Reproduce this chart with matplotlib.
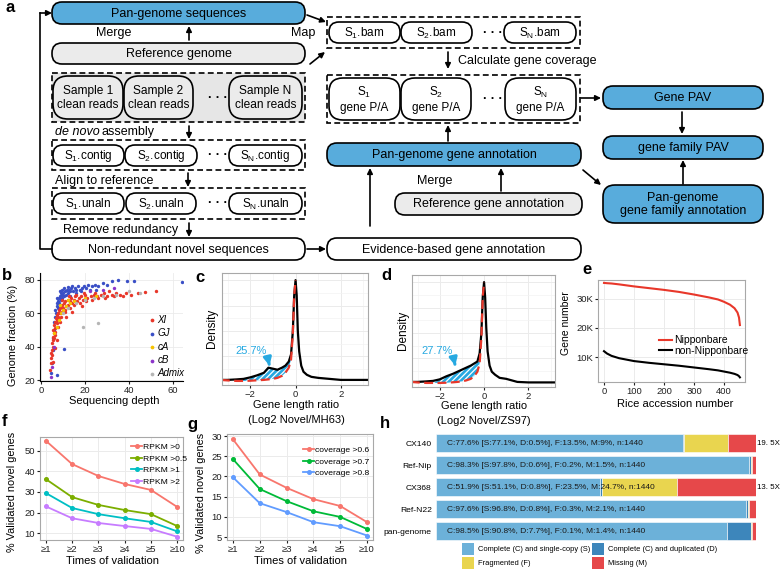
import numpy as np
import matplotlib
matplotlib.use('Agg')
import matplotlib.pyplot as plt
from matplotlib.patches import FancyBboxPatch, Rectangle

plt.rcParams['font.family'] = ['Liberation Sans', 'DejaVu Sans']
plt.rcParams['hatch.linewidth'] = 0.9
plt.rcParams['hatch.color'] = 'white'

W, H = 781, 575
BLUE = '#58acdc'
LGRAY = '#ebebeb'
CYAN = '#27a9e1'
RED = '#e8372a'
FRAME = '#a8a8a8'
GRID = '#ebebeb'

# ---- b: genome fraction vs sequencing depth (depth, fraction) ----
xi_pts = [(4.0, 26), (4.3, 30), (4.5, 33), (4.6, 36), (4.8, 38), (5.0, 35), (5.0, 42), (5.2, 40),
          (5.3, 46), (5.5, 44), (5.6, 50), (5.8, 48), (6.0, 45), (6.0, 53), (6.2, 51), (6.4, 55),
          (6.5, 49), (6.8, 57), (7.0, 54), (7.0, 59), (7.3, 56), (7.5, 60), (7.8, 58), (8.0, 62),
          (8.2, 57), (8.5, 63), (8.8, 60), (9.0, 64), (9.3, 61), (9.6, 65), (10.0, 63), (10.3, 66),
          (10.7, 62), (11.0, 67), (11.5, 64), (12.0, 68), (12.4, 65), (13.0, 67), (13.5, 69),
          (14.0, 66), (14.8, 68), (15.5, 70), (16.2, 67), (17.0, 69), (18.0, 70), (19.0, 68),
          (20.0, 71), (21.0, 69), (22.5, 70), (24.0, 71), (25.5, 70), (27.0, 71), (28.5, 72),
          (30.0, 70), (32.0, 71), (34.0, 72), (36.0, 71), (38.5, 72), (41.0, 71), (44.0, 72),
          (47.0, 72.5), (52.0, 73), (9.0, 58), (11.0, 61), (13.0, 63), (15.0, 65), (17.5, 66),
          (20.5, 67), (23.0, 68), (26.0, 69), (29.0, 69), (33.0, 70), (6.5, 47), (7.5, 52),
          (8.5, 55), (5.4, 31), (6.3, 39), (7.2, 44), (9.5, 68), (12.5, 70), (16.0, 71),
          (19.5, 72), (24.5, 72), (31.0, 73), (37.0, 70), (11.5, 58), (14.0, 61), (18.5, 64)]
gj_pts = [(4.5, 24), (5.0, 30), (5.2, 38), (5.5, 45), (5.8, 50), (6.0, 55), (6.3, 58), (6.5, 62),
          (6.8, 60), (7.0, 64), (7.3, 66), (7.5, 63), (7.8, 67), (8.0, 69), (8.3, 66), (8.6, 70),
          (9.0, 68), (9.3, 71), (9.7, 69), (10.0, 72), (10.4, 70), (10.8, 73), (11.2, 71),
          (11.7, 74), (12.2, 72), (12.7, 74), (13.2, 73), (13.8, 75), (14.5, 73), (15.2, 75),
          (16.0, 74), (16.8, 76), (17.5, 74), (18.5, 75), (19.5, 76), (20.5, 75), (21.5, 77),
          (23.0, 76), (24.5, 77), (26.0, 76), (28.0, 78), (30.0, 77), (32.0, 79), (35.0, 80),
          (39.0, 79.5), (42.0, 79.5), (64.0, 78.5), (7.0, 23), (10.5, 38.5), (9.0, 72),
          (12.0, 75.5), (14.0, 76), (16.0, 72), (18.0, 73), (22.0, 74), (8.5, 73), (10.5, 75),
          (7.2, 69), (9.5, 74), (13.0, 70), (25.0, 74)]
ca_pts = [(6.0, 48), (7.0, 52), (8.0, 56), (9.0, 60), (10.0, 62), (11.5, 64), (13.0, 66),
          (15.0, 67), (8.5, 65), (12.0, 68), (20.0, 69), (25.0, 70)]
cb_pts = [(4.5, 22), (5.0, 28), (6.0, 40), (28.0, 74), (33.0, 75), (22.0, 73)]
admix_pts = [(10.0, 60), (12.0, 63), (19.0, 52), (26.0, 54), (16.0, 66), (20.0, 68), (24.0, 69),
             (28.0, 70), (34.0, 71), (40.0, 73), (45.0, 72)]
b_groups = ['XI', 'GJ', 'cA', 'cB', 'Admix']

# ---- c / d: gene length ratio densities ----
dens_x = [-3.3, -3.0, -2.6, -2.3, -2.0, -1.7, -1.4, -1.2, -1.0, -0.8, -0.6, -0.45, -0.3,
          -0.2, -0.12, -0.06, 0.0, 0.05, 0.1, 0.16, 0.25, 0.35, 0.5, 0.7, 1.0, 1.5, 2.0, 2.5, 3.3]
c_novel = [0.02, 0.02, 0.025, 0.03, 0.045, 0.065, 0.09, 0.14, 0.13, 0.12, 0.14, 0.16, 0.2,
           0.27, 0.5, 0.85, 1.0, 0.85, 0.5, 0.3, 0.16, 0.1, 0.07, 0.05, 0.04, 0.03, 0.02, 0.02, 0.02]
c_ref = [0.02, 0.015, 0.01, 0.01, 0.012, 0.016, 0.02, 0.025, 0.03, 0.04, 0.06, 0.09, 0.14,
         0.22, 0.48, 0.85, 1.0]
d_novel = [0.02, 0.02, 0.025, 0.03, 0.045, 0.075, 0.1, 0.12, 0.14, 0.16, 0.18, 0.2, 0.22,
           0.3, 0.5, 0.85, 1.0, 0.85, 0.55, 0.32, 0.18, 0.12, 0.09, 0.06, 0.05, 0.02, 0.015, 0.015, 0.015]
d_ref = [0.02, 0.015, 0.01, 0.01, 0.01, 0.012, 0.016, 0.02, 0.025, 0.035, 0.05, 0.075, 0.12,
         0.2, 0.45, 0.85, 1.0]
c_pct, d_pct = '25.7%', '27.7%'

# ---- e: gene number per accession (thousands) ----
e_acc = [0, 10, 25, 50, 100, 150, 200, 250, 300, 350, 380, 400, 420, 435, 445, 450, 453]
e_nip = [35.5, 35.4, 35.3, 35.0, 34.3, 33.7, 33.1, 32.4, 31.5, 30.5, 29.8, 29.0, 28.0, 26.8,
         25.3, 23.6, 21.0]
e_non = [12.0, 11.2, 10.4, 9.6, 8.6, 8.0, 7.5, 7.0, 6.4, 5.8, 5.4, 5.0, 4.6, 4.2, 3.8, 3.4, 3.0]

# ---- f / g: validated novel genes ----
times = ['≥1', '≥2', '≥3', '≥4', '≥5', '≥10']
rpkm0 = [55.0, 43.6, 37.8, 33.9, 31.0, 22.7]
rpkm05 = [36.3, 27.5, 23.7, 21.2, 19.2, 13.4]
rpkm1 = [29.5, 22.2, 19.2, 17.2, 15.4, 10.8]
rpkm2 = [23.0, 17.2, 14.9, 13.4, 12.0, 8.2]
rpkm_labels = ['RPKM >0', 'RPKM >0.5', 'RPKM >1', 'RPKM >2']
cov06 = [29.2, 20.5, 17.2, 14.4, 12.7, 8.7]
cov07 = [24.3, 16.9, 13.9, 11.4, 10.0, 7.0]
cov08 = [19.8, 13.4, 11.2, 8.7, 7.7, 5.4]
cov_labels = ['coverage >0.6', 'coverage >0.7', 'coverage >0.8']

# ---- h: BUSCO ----
h_names = ['CX140', 'Ref-Nip', 'CX368', 'Ref-N22', 'pan-genome']
h_S = [77.1, 97.8, 51.1, 96.8, 90.8]
h_D = [0.5, 0.6, 0.8, 0.8, 7.7]
h_F = [13.5, 0.2, 23.5, 0.3, 0.1]
h_M = [9.0, 1.5, 24.7, 2.1, 1.4]
h_text = ['C:77.6% [S:77.1%, D:0.5%], F:13.5%, M:9%, n:1440',
          'C:98.3% [S:97.8%, D:0.6%], F:0.2%, M:1.5%, n:1440',
          'C:51.9% [S:51.1%, D:0.8%], F:23.5%, M:24.7%, n:1440',
          'C:97.6% [S:96.8%, D:0.8%], F:0.3%, M:2.1%, n:1440',
          'C:98.5% [S:90.8%, D:7.7%], F:0.1%, M:1.4%, n:1440']
h_depth = ['19. 5X', '', '13. 5X', '', '']
h_legend = ['Complete (C) and single-copy (S)', 'Complete (C) and duplicated (D)',
            'Fragmented (F)', 'Missing (M)']
h_colors = ['#6cb1d9', '#3d86bb', '#e9d54f', '#e6484a']

fig = plt.figure(figsize=(W / 100, H / 100), dpi=100)


def ax_px(x0, y0, x1, y1):
    return fig.add_axes([x0 / W, 1 - y1 / H, (x1 - x0) / W, (y1 - y0) / H])


bg = fig.add_axes([0, 0, 1, 1])
bg.set_xlim(0, W)
bg.set_ylim(H, 0)
bg.axis('off')


def rbox(x0, y0, x1, y1, txt='', fc='white', r=10, fs=9):
    bg.add_patch(FancyBboxPatch((x0, y0), x1 - x0, y1 - y0,
                                boxstyle=f'round,pad=0,rounding_size={r}',
                                fc=fc, ec='black', lw=1.2))
    if txt:
        bg.text((x0 + x1) / 2, (y0 + y1) / 2 + 0.5, txt, ha='center', va='center',
                fontsize=fs, linespacing=1.15)


def dbox(x0, y0, x1, y1, fc='white'):
    bg.add_patch(Rectangle((x0, y0), x1 - x0, y1 - y0, fc=fc, ec='black', lw=1.2,
                           ls=(0, (3.5, 2))))


def arrow(x0, y0, x1, y1):
    bg.annotate('', xy=(x1, y1), xytext=(x0, y0),
                arrowprops=dict(arrowstyle='-|>', color='black', lw=1.2, mutation_scale=8,
                                shrinkA=0, shrinkB=0))


def label(x, y, s, **kw):
    kw.setdefault('fontsize', 9)
    kw.setdefault('va', 'center')
    bg.text(x, y, s, **kw)


def sub(n):
    return 'S$_\\mathregular{' + n + '}$'


def dots(x, y):
    label(x, y, '· · ·', ha='center', fontsize=9, fontweight='bold')


# ---------------- panel a ----------------
label(10, 7, 'a', fontsize=12, fontweight='bold', ha='center')
rbox(52, 2, 305, 24, 'Pan-genome sequences', fc=BLUE)
label(114, 33, 'Merge', ha='center')
arrow(189, 40, 189, 26)
label(303, 33, 'Map', ha='center')
rbox(52, 43, 305, 64, 'Reference genome', fc=LGRAY)
dbox(52, 73, 305, 122, fc='#e6e6e6')
rbox(53, 76, 123, 119, 'Sample 1\nclean reads', fc=LGRAY, r=15, fs=8.6)
rbox(124, 76, 193, 119, 'Sample 2\nclean reads', fc=LGRAY, r=15, fs=8.6)
dots(218, 98)
rbox(229, 76, 302, 119, 'Sample N\nclean reads', fc=LGRAY, r=15, fs=8.6)
label(55, 132, 'de novo', ha='left', style='italic')
label(101, 132, 'assembly', ha='left')
arrow(189, 126, 189, 139)
dbox(52, 140, 305, 170)
rbox(53, 145, 124, 166, sub('1') + '.contig', fs=8.5)
rbox(125, 145, 197, 166, sub('2') + '.contig', fs=8.5)
dots(218, 155)
rbox(229, 145, 302, 166, sub('N') + '.contig', fs=8.5)
label(55, 181, 'Align to reference', ha='left')
arrow(188, 173, 188, 187)
dbox(52, 188, 305, 219)
rbox(53, 193, 124, 214, sub('1') + '.unaln', fs=8.5)
rbox(126, 193, 196, 214, sub('2') + '.unaln', fs=8.5)
dots(218, 203)
rbox(229, 193, 302, 214, sub('N') + '.unaln', fs=8.5)
label(63, 230, 'Remove redundancy', ha='left')
arrow(189, 223, 189, 237)
rbox(52, 238, 305, 260, 'Non-redundant novel sequences')
bg.plot([52, 40, 40], [249, 249, 13], color='black', lw=1.2)
arrow(40, 13, 52, 13)
arrow(307, 249, 326, 249)
rbox(327, 238, 581, 260, 'Evidence-based gene annotation')
arrow(370, 226, 370, 168)
rbox(327, 143, 581, 166, 'Pan-genome gene annotation', fc=BLUE)
label(435, 181, 'Merge', ha='center')
arrow(501, 191, 501, 168)
rbox(395, 193, 582, 215, 'Reference gene annotation', fc=LGRAY)
arrow(583, 170, 601, 185)
rbox(603, 185, 763, 223, 'Pan-genome\ngene family annotation', fc=BLUE, r=12)
arrow(683, 184, 683, 160)
rbox(603, 136, 763, 159, 'gene family PAV', fc=BLUE)
arrow(682, 112, 682, 134)
rbox(603, 86, 763, 109, 'Gene PAV', fc=BLUE)
arrow(581, 98, 601, 98)
dbox(327, 75, 580, 123)
rbox(329, 78, 400, 120, sub('1') + '\ngene P/A', r=14, fs=8.5)
rbox(401, 78, 471, 120, sub('2') + '\ngene P/A', r=14, fs=8.5)
dots(493, 99)
rbox(505, 78, 576, 120, sub('N') + '\ngene P/A', r=14, fs=8.5)
arrow(448, 141, 448, 125)
arrow(448, 52, 448, 69)
label(458, 61, 'Calculate gene coverage', ha='left')
dbox(327, 17, 580, 48)
rbox(329, 22, 400, 43, sub('1') + '.bam', fs=8.5)
rbox(401, 22, 472, 43, sub('2') + '.bam', fs=8.5)
dots(493, 33)
rbox(504, 22, 576, 43, sub('N') + '.bam', fs=8.5)
arrow(307, 15, 326, 22)
arrow(310, 64, 325, 52)


def style_ax(ax, frame=True):
    ax.set_axisbelow(True)
    ax.tick_params(labelsize=6.8, length=2.5, width=0.8, pad=1.2, colors='#222222')
    for s in ax.spines.values():
        s.set_color(FRAME)
        s.set_linewidth(0.8)
        s.set_visible(frame)


# ---------------- panel b ----------------
axb = ax_px(40, 273, 183, 381)
style_ax(axb, frame=False)
axb.spines['left'].set_visible(True)
axb.spines['bottom'].set_visible(True)
axb.spines['left'].set_color('black')
axb.spines['bottom'].set_color('black')
b_cols = [RED, '#3a4fc6', '#f6c200', '#8c35c9', '#b5b5b5']
handles = {}
for pts, col, name in [(gj_pts, b_cols[1], 'GJ'), (xi_pts, b_cols[0], 'XI'),
                       (ca_pts, b_cols[2], 'cA'), (cb_pts, b_cols[3], 'cB'),
                       (admix_pts, b_cols[4], 'Admix')]:
    dep, frac = zip(*pts)
    handles[name] = axb.scatter(dep, frac, s=6, color=col, lw=0, label=name)
axb.set_xlim(-0.5, 64.5)
axb.set_ylim(19.5, 84)
axb.set_xticks([0, 20, 40, 60])
axb.set_yticks([20, 40, 60, 80])
axb.grid(color=GRID, lw=0.6)
axb.legend([handles[g] for g in b_groups], b_groups, loc='upper left',
           bbox_to_anchor=(142 / W, 1 - 310 / H), bbox_transform=fig.transFigure,
           frameon=False, prop={'style': 'italic', 'size': 7}, markerscale=1.1,
           handletextpad=0.1, labelspacing=0.35, borderpad=0, handlelength=1)
label(7, 275, 'b', fontsize=12, fontweight='bold', ha='center')
label(13, 335, 'Genome fraction (%)', fontsize=7.8, rotation=90, ha='center')
label(114, 401, 'Sequencing depth', fontsize=8, ha='center')


# ---------------- panels c, d ----------------
def density_panel(ax, ys, ref, lo, pct, txt_xy, tip_xy):
    x = np.array(dens_x)
    n = len(ref)
    xs = x[:n]
    mask = (xs >= lo) & (xs <= -0.2)
    ax.fill_between(xs, ref, ys[:n], where=mask, facecolor=CYAN, edgecolor='white',
                    hatch='//////', lw=0, interpolate=True)
    ax.plot(x, ys, color='black', lw=1.6)
    ax.plot(xs, ref, color=RED, lw=1.6, dashes=(4, 2))
    ax.annotate(pct, xy=tip_xy, xytext=txt_xy, color=CYAN, fontsize=8, ha='center',
                va='center',
                arrowprops=dict(arrowstyle='-|>', color=CYAN, lw=2.2, mutation_scale=11,
                                connectionstyle='arc3,rad=-0.4', shrinkA=4, shrinkB=0))
    ax.set_xlim(-3.25, 3.2)
    ax.set_ylim(-0.03, 1.07)
    ax.set_xticks([-2, 0, 2])
    ax.set_xticks([-3, -1, 1, 3], minor=True)
    ax.set_yticks([0.25, 0.5, 0.75, 1.0])
    ax.set_yticks([0.125, 0.375, 0.625, 0.875], minor=True)
    ax.set_yticklabels([])
    ax.tick_params(axis='y', which='both', length=0)
    ax.tick_params(axis='x', which='minor', length=0)
    ax.grid(which='major', color=GRID, lw=0.7)
    ax.grid(which='minor', color='#f3f3f3', lw=0.5)


axc = ax_px(222, 273, 368, 385)
style_ax(axc)
density_panel(axc, c_novel, c_ref, -2.3, c_pct, (-1.95, 0.3), (-1.15, 0.16))
label(200, 277, 'c', fontsize=12, fontweight='bold', ha='center')
label(212, 328, 'Density', fontsize=8.5, rotation=90, ha='center')
label(296, 405, 'Gene length ratio', fontsize=8, ha='center')
label(296, 420, '(Log2 Novel/MH63)', fontsize=8, ha='center')

axd = ax_px(412, 275, 555, 387)
style_ax(axd)
density_panel(axd, d_novel, d_ref, -2.0, d_pct, (-2.1, 0.32), (-1.3, 0.18))
label(386, 276, 'd', fontsize=12, fontweight='bold', ha='center')
label(403, 330, 'Density', fontsize=8.5, rotation=90, ha='center')
label(484, 406, 'Gene length ratio', fontsize=8, ha='center')
label(484, 421, '(Log2 Novel/ZS97)', fontsize=8, ha='center')

# ---------------- panel e ----------------
axe = ax_px(598, 280, 745, 382)
style_ax(axe)
axe.plot(e_acc, e_nip, color=RED, lw=1.5, label='Nipponbare')
axe.plot(e_acc, e_non, color='black', lw=1.5, label='non-Nipponbare')
axe.set_xlim(-20, 470)
axe.set_ylim(1.4, 36.5)
axe.set_yticks([10, 20, 30])
axe.set_yticklabels(['10K', '20K', '30K'])
axe.set_xticks([0, 100, 200, 300, 400])
axe.grid(color=GRID, lw=0.7)
axe.legend(loc='upper left', bbox_to_anchor=(654 / W, 1 - 330 / H),
           bbox_transform=fig.transFigure, frameon=False, fontsize=7.5, handlelength=1.2,
           handletextpad=0.2, labelspacing=0.05, borderpad=0)
label(587, 270, 'e', fontsize=12, fontweight='bold', ha='center')
label(566, 323, 'Gene number', fontsize=7.5, rotation=90, ha='center')
label(675, 404, 'Rice accession number', fontsize=8, ha='center')


# ---------------- panels f, g ----------------
def line_panel(ax, series, labels, colors, leg_xy):
    pos = np.arange(1, len(times) + 1)
    for vals, lab, col in zip(series, labels, colors):
        ax.plot(pos, vals, color=col, lw=1.3, marker='o', ms=2.6, label=lab)
    ax.set_xticks(pos)
    ax.set_xticklabels(times)
    ax.set_xlim(0.78, 6.22)
    ax.grid(color=GRID, lw=0.7)
    ax.legend(loc='upper left', bbox_to_anchor=(leg_xy[0] / W, 1 - leg_xy[1] / H),
              bbox_transform=fig.transFigure, frameon=False, fontsize=6.1, handlelength=1.3,
              handletextpad=0.1, labelspacing=0.42, borderpad=0)


axf = ax_px(40, 437, 183, 540)
style_ax(axf)
line_panel(axf, [rpkm0, rpkm05, rpkm1, rpkm2], rpkm_labels,
           ['#f8766d', '#7cae00', '#00bfc4', '#c77cff'], (127, 439))
axf.set_ylim(6.6, 56.8)
axf.set_yticks([10, 20, 30, 40, 50])
label(5, 422, 'f', fontsize=12, fontweight='bold', ha='center')
label(12, 492, '% Validated novel genes', fontsize=7.8, rotation=90, ha='center')
label(112, 561, 'Times of validation', fontsize=8, ha='center')

axg = ax_px(227, 434, 373, 540)
style_ax(axg)
line_panel(axg, [cov06, cov07, cov08], cov_labels,
           ['#f8766d', '#00ba38', '#619cff'], (299, 442))
axg.set_ylim(4.3, 30.5)
axg.set_yticks([5, 10, 15, 20, 25, 30])
label(192, 425, 'g', fontsize=12, fontweight='bold', ha='center')
label(201, 493, '% Validated novel genes', fontsize=7.8, rotation=90, ha='center')
label(300, 561, 'Times of validation', fontsize=8, ha='center')

# ---------------- panel h ----------------
axh = ax_px(436, 432, 756, 541)
ypos = np.arange(len(h_names))
left = np.zeros(len(h_names))
for vals, col in zip([h_S, h_D, h_F, h_M], h_colors):
    axh.barh(ypos, vals, left=left, color=col, height=0.8, edgecolor='white', lw=0.4)
    left += np.array(vals)
for i, t in enumerate(h_text):
    axh.text(3.4, i, t, va='center', fontsize=6.05, color='#1a1a1a')
    if h_depth[i]:
        axh.text(100.4, i, h_depth[i], va='center', fontsize=5.7, clip_on=False)
axh.set_xlim(0, 100)
axh.set_ylim(4.45, -0.5)
axh.set_yticks(ypos)
axh.set_yticklabels(h_names, fontsize=6.1)
axh.set_xticks([])
axh.tick_params(axis='y', length=0, pad=3)
for s in axh.spines.values():
    s.set_visible(False)
label(385, 423, 'h', fontsize=12, fontweight='bold', ha='center')
leg_pos = [(462, 543), (592, 543), (462, 557), (592, 557)]
for (lx, ly), txt, col in zip(leg_pos, h_legend, h_colors):
    bg.add_patch(Rectangle((lx, ly), 12, 12, fc=col, ec='none'))
    label(lx + 16, ly + 6.5, txt, fontsize=5.4, ha='left')

fig.savefig('out.png', dpi=100)
